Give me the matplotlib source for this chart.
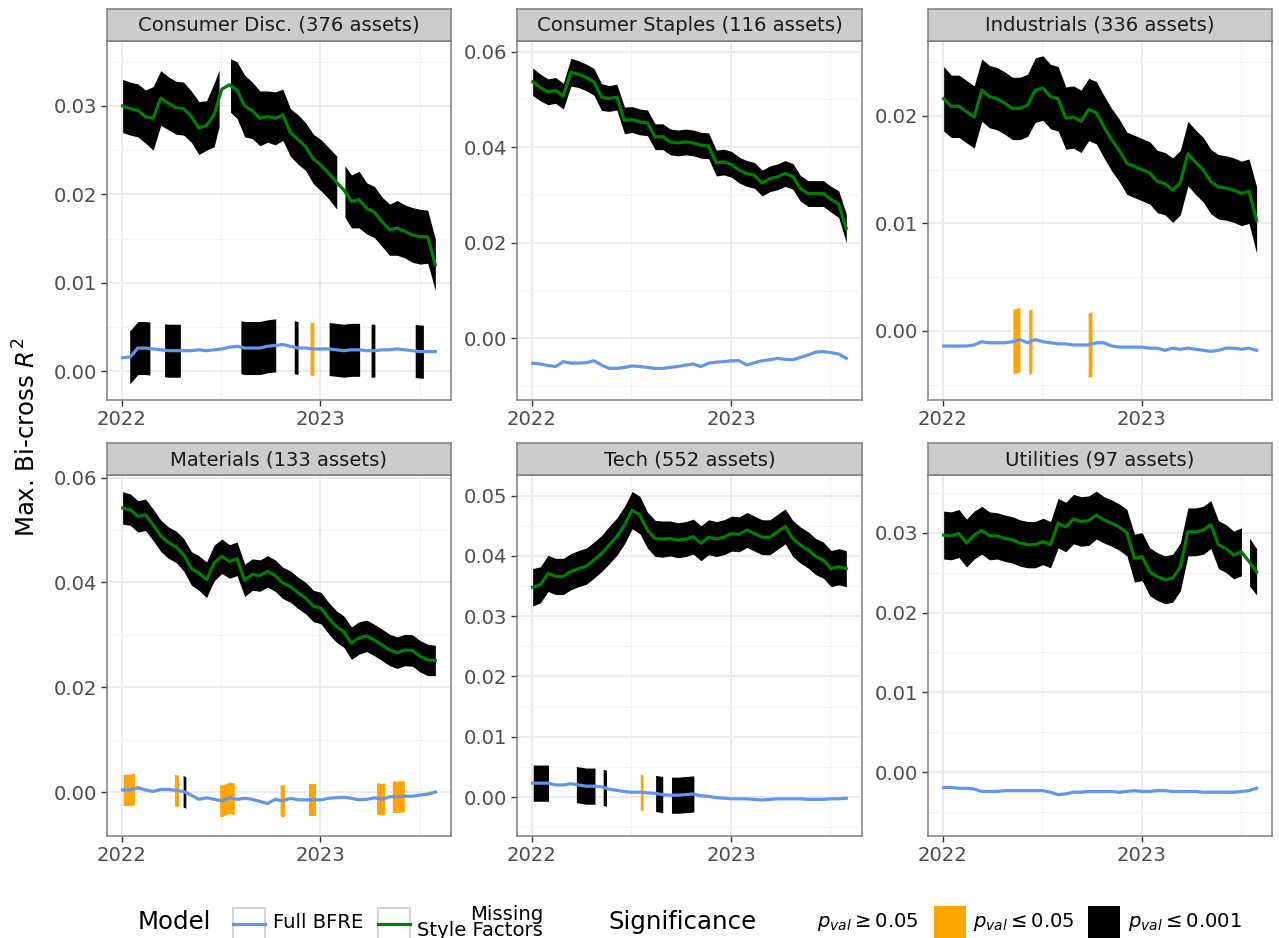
import numpy as np
import matplotlib
matplotlib.use("Agg")
import matplotlib.pyplot as plt
from matplotlib.patches import Rectangle
from matplotlib.lines import Line2D
from matplotlib.ticker import MultipleLocator, FormatStrFormatter

# ---------------- data ----------------
dates = np.arange(np.datetime64("2022-01-03"), np.datetime64("2023-08-07"), np.timedelta64(14, "D"))

panel_titles = ["Consumer Disc. (376 assets)", "Consumer Staples (116 assets)", "Industrials (336 assets)",
                "Materials (133 assets)", "Tech (552 assets)", "Utilities (97 assets)"]

# Missing Style Factors model (green) : value and ribbon half-width
green_cd = [0.0300, 0.0297, 0.0295, 0.0288, 0.0286, 0.0309, 0.0303, 0.0298, 0.0297, 0.0288,
            0.0275, 0.0278, 0.0290, 0.0319, 0.0324, 0.0318, 0.0300, 0.0295, 0.0286, 0.0288,
            0.0286, 0.0290, 0.0270, 0.0262, 0.0254, 0.0240, 0.0233, 0.0224, 0.0214, 0.0205,
            0.0192, 0.0194, 0.0184, 0.0180, 0.0169, 0.0160, 0.0162, 0.0158, 0.0154, 0.0152,
            0.0152, 0.0120]
green_cd_hw = [0.0030, 0.0030, 0.0030, 0.0030, 0.0036, 0.0031, 0.0030, 0.0030, 0.0030, 0.0029,
               0.0030, 0.0028, 0.0036, 0.0030, 0.0030, 0.0032, 0.0035, 0.0032, 0.0031, 0.0029,
               0.0030, 0.0029, 0.0027, 0.0028, 0.0027, 0.0028, 0.0029, 0.0029, 0.0030, 0.0029,
               0.0030, 0.0032, 0.0029, 0.0029, 0.0028, 0.0029, 0.0031, 0.0030, 0.0031, 0.0031,
               0.0030, 0.0029]
green_cs = [0.0537, 0.0525, 0.0516, 0.0519, 0.0507, 0.0557, 0.0553, 0.0546, 0.0537, 0.0505,
            0.0502, 0.0505, 0.0456, 0.0458, 0.0453, 0.0451, 0.0422, 0.0422, 0.0411, 0.0409,
            0.0411, 0.0409, 0.0404, 0.0403, 0.0367, 0.0369, 0.0364, 0.0352, 0.0345, 0.0341,
            0.0325, 0.0334, 0.0338, 0.0345, 0.0339, 0.0314, 0.0303, 0.0303, 0.0303, 0.0291,
            0.0281, 0.0230]
green_cs_hw = [0.0029, 0.0028, 0.0027, 0.0027, 0.0027, 0.0029, 0.0028, 0.0028, 0.0028, 0.0028,
               0.0027, 0.0027, 0.0028, 0.0027, 0.0027, 0.0027, 0.0027, 0.0027, 0.0027, 0.0027,
               0.0027, 0.0027, 0.0027, 0.0027, 0.0027, 0.0027, 0.0027, 0.0027, 0.0027, 0.0027,
               0.0027, 0.0027, 0.0027, 0.0027, 0.0027, 0.0027, 0.0027, 0.0027, 0.0027, 0.0027,
               0.0028, 0.0030]
green_ind = [0.0216, 0.0209, 0.0209, 0.0204, 0.0199, 0.0224, 0.0218, 0.0216, 0.0212, 0.0207,
             0.0207, 0.0210, 0.0224, 0.0226, 0.0218, 0.0216, 0.0198, 0.0199, 0.0195, 0.0206,
             0.0203, 0.0190, 0.0178, 0.0168, 0.0156, 0.0153, 0.0150, 0.0147, 0.0139, 0.0137,
             0.0131, 0.0138, 0.0165, 0.0157, 0.0150, 0.0139, 0.0134, 0.0133, 0.0131, 0.0128,
             0.0130, 0.0103]
green_ind_hw = [0.0030, 0.0029, 0.0029, 0.0029, 0.0029, 0.0029, 0.0029, 0.0029, 0.0029, 0.0029,
                0.0029, 0.0029, 0.0030, 0.0030, 0.0030, 0.0030, 0.0029, 0.0029, 0.0029, 0.0029,
                0.0029, 0.0029, 0.0029, 0.0029, 0.0029, 0.0029, 0.0029, 0.0029, 0.0029, 0.0029,
                0.0030, 0.0030, 0.0030, 0.0030, 0.0030, 0.0030, 0.0030, 0.0030, 0.0030, 0.0030,
                0.0030, 0.0031]
green_mat = [0.0542, 0.0539, 0.0526, 0.0529, 0.0510, 0.0489, 0.0476, 0.0468, 0.0453, 0.0427,
             0.0418, 0.0405, 0.0437, 0.0450, 0.0440, 0.0445, 0.0404, 0.0415, 0.0413, 0.0421,
             0.0413, 0.0399, 0.0392, 0.0380, 0.0370, 0.0355, 0.0351, 0.0332, 0.0316, 0.0306,
             0.0284, 0.0294, 0.0298, 0.0290, 0.0281, 0.0271, 0.0266, 0.0271, 0.0270, 0.0259,
             0.0252, 0.0251]
green_mat_hw = [0.0031, 0.0030, 0.0030, 0.0030, 0.0030, 0.0030, 0.0030, 0.0030, 0.0031, 0.0032,
                0.0033, 0.0034, 0.0034, 0.0033, 0.0032, 0.0032, 0.0031, 0.0030, 0.0030, 0.0030,
                0.0030, 0.0030, 0.0030, 0.0030, 0.0030, 0.0030, 0.0030, 0.0030, 0.0030, 0.0030,
                0.0031, 0.0031, 0.0030, 0.0030, 0.0030, 0.0030, 0.0030, 0.0030, 0.0030, 0.0030,
                0.0030, 0.0029]
green_tech = [0.0348, 0.0352, 0.0371, 0.0366, 0.0366, 0.0374, 0.0379, 0.0383, 0.0393, 0.0404,
              0.0418, 0.0432, 0.0451, 0.0476, 0.0468, 0.0443, 0.0429, 0.0428, 0.0429, 0.0426,
              0.0428, 0.0432, 0.0421, 0.0431, 0.0428, 0.0431, 0.0437, 0.0436, 0.0443, 0.0437,
              0.0431, 0.0431, 0.0440, 0.0449, 0.0429, 0.0418, 0.0410, 0.0399, 0.0393, 0.0379,
              0.0382, 0.0379]
green_tech_hw = [0.0031, 0.0030, 0.0030, 0.0030, 0.0030, 0.0030, 0.0030, 0.0030, 0.0030, 0.0030,
                 0.0031, 0.0031, 0.0031, 0.0031, 0.0031, 0.0030, 0.0030, 0.0030, 0.0029, 0.0029,
                 0.0029, 0.0029, 0.0029, 0.0029, 0.0029, 0.0029, 0.0029, 0.0029, 0.0029, 0.0029,
                 0.0029, 0.0029, 0.0029, 0.0029, 0.0030, 0.0030, 0.0030, 0.0030, 0.0030, 0.0030,
                 0.0030, 0.0030]
green_util = [0.0297, 0.0296, 0.0299, 0.0287, 0.0297, 0.0303, 0.0296, 0.0296, 0.0293, 0.0291,
              0.0287, 0.0285, 0.0285, 0.0289, 0.0285, 0.0312, 0.0307, 0.0317, 0.0314, 0.0315,
              0.0322, 0.0316, 0.0312, 0.0307, 0.0300, 0.0268, 0.0270, 0.0251, 0.0245, 0.0241,
              0.0243, 0.0257, 0.0301, 0.0301, 0.0303, 0.0310, 0.0285, 0.0280, 0.0272, 0.0276,
              0.0264, 0.0251]
green_util_hw = [0.0030, 0.0030, 0.0030, 0.0030, 0.0030, 0.0030, 0.0030, 0.0029, 0.0029, 0.0029,
                 0.0029, 0.0029, 0.0029, 0.0029, 0.0029, 0.0031, 0.0031, 0.0031, 0.0031, 0.0031,
                 0.0030, 0.0029, 0.0029, 0.0029, 0.0029, 0.0030, 0.0030, 0.0030, 0.0030, 0.0030,
                 0.0030, 0.0030, 0.0030, 0.0030, 0.0030, 0.0030, 0.0030, 0.0030, 0.0030, 0.0030,
                 0.0030, 0.0029]

# Full BFRE model (blue)
blue_cd = [0.0015, 0.0016, 0.0026, 0.0026, 0.0025, 0.0024, 0.0023, 0.0023, 0.0023, 0.0023,
           0.0024, 0.0023, 0.0024, 0.0025, 0.0027, 0.0028, 0.0026, 0.0026, 0.0026, 0.0028,
           0.0029, 0.0030, 0.0028, 0.0026, 0.0026, 0.0025, 0.0025, 0.0025, 0.0024, 0.0023,
           0.0024, 0.0024, 0.0023, 0.0023, 0.0024, 0.0024, 0.0025, 0.0024, 0.0023, 0.0022,
           0.0022, 0.0022]
blue_cs = [-0.0052, -0.0054, -0.0057, -0.0059, -0.0049, -0.0052, -0.0052, -0.0051, -0.0047, -0.0056,
           -0.0063, -0.0063, -0.0061, -0.0058, -0.0059, -0.0061, -0.0063, -0.0063, -0.0061, -0.0059,
           -0.0056, -0.0054, -0.0059, -0.0052, -0.0050, -0.0049, -0.0047, -0.0047, -0.0056, -0.0051,
           -0.0047, -0.0045, -0.0042, -0.0044, -0.0045, -0.0040, -0.0035, -0.0029, -0.0028, -0.0030,
           -0.0033, -0.0042]
blue_ind = [-0.0014, -0.0014, -0.0014, -0.0014, -0.0013, -0.0010, -0.0011, -0.0011, -0.0011, -0.0010,
            -0.0008, -0.0011, -0.0008, -0.0010, -0.0011, -0.0012, -0.0012, -0.0013, -0.0013, -0.0013,
            -0.0011, -0.0011, -0.0014, -0.0015, -0.0015, -0.0015, -0.0015, -0.0016, -0.0016, -0.0018,
            -0.0016, -0.0017, -0.0016, -0.0017, -0.0018, -0.0019, -0.0018, -0.0016, -0.0016, -0.0017,
            -0.0016, -0.0018]
blue_mat = [0.0004, 0.0004, 0.0008, 0.0004, 0.0001, 0.0005, 0.0005, 0.0003, 0.0001, -0.0006,
            -0.0014, -0.0011, -0.0014, -0.0017, -0.0011, -0.0014, -0.0012, -0.0014, -0.0018, -0.0022,
            -0.0014, -0.0017, -0.0012, -0.0015, -0.0015, -0.0015, -0.0015, -0.0012, -0.0011, -0.0010,
            -0.0012, -0.0015, -0.0014, -0.0011, -0.0014, -0.0009, -0.0009, -0.0008, -0.0008, -0.0006,
            -0.0004, 0.0000]
blue_tech = [0.0023, 0.0023, 0.0023, 0.0020, 0.0020, 0.0022, 0.0020, 0.0018, 0.0018, 0.0017,
             0.0013, 0.0011, 0.0009, 0.0008, 0.0008, 0.0007, 0.0006, 0.0004, 0.0003, 0.0003,
             0.0004, 0.0005, 0.0002, 0.0001, -0.0001, -0.0002, -0.0003, -0.0003, -0.0003, -0.0004,
             -0.0005, -0.0004, -0.0003, -0.0003, -0.0003, -0.0003, -0.0004, -0.0004, -0.0004, -0.0003,
             -0.0003, -0.0002]
blue_util = [-0.0019, -0.0019, -0.0020, -0.0020, -0.0021, -0.0024, -0.0024, -0.0024, -0.0023, -0.0023,
             -0.0023, -0.0023, -0.0023, -0.0023, -0.0025, -0.0028, -0.0027, -0.0025, -0.0025, -0.0024,
             -0.0024, -0.0024, -0.0024, -0.0025, -0.0024, -0.0023, -0.0024, -0.0024, -0.0023, -0.0023,
             -0.0024, -0.0024, -0.0024, -0.0024, -0.0025, -0.0025, -0.0025, -0.0025, -0.0025, -0.0024,
             -0.0023, -0.0020]
blue_hw = [0.0030, 0.0030, 0.0030, 0.0030, 0.0030, 0.0030]

# significance periods (start, end, level): '*' p<=0.05, '***' p<=0.001 ; elsewhere p>=0.05 (no fill)
green_sig = [
    [("2022-01-03", "2022-06-29", "***"), ("2022-07-20", "2023-01-31", "***"), ("2023-02-15", "2023-07-31", "***")],
    [("2022-01-03", "2023-07-31", "***")],
    [("2022-01-03", "2023-07-31", "***")],
    [("2022-01-03", "2023-07-31", "***")],
    [("2022-01-03", "2023-07-31", "***")],
    [("2022-01-03", "2023-07-03", "***"), ("2023-07-18", "2023-07-31", "***")],
]
blue_sig = [
    [("2022-01-16", "2022-02-22", "***"), ("2022-03-21", "2022-04-19", "***"), ("2022-08-08", "2022-10-11", "***"),
     ("2022-11-14", "2022-11-21", "***"), ("2022-12-13", "2022-12-20", "*"), ("2023-01-17", "2023-03-14", "***"),
     ("2023-04-04", "2023-04-11", "***"), ("2023-06-24", "2023-07-09", "***")],
    [],
    [("2022-05-10", "2022-05-23", "*"), ("2022-06-08", "2022-06-14", "*"), ("2022-09-25", "2022-10-02", "*")],
    [("2022-01-04", "2022-01-25", "*"), ("2022-04-08", "2022-04-16", "*"), ("2022-04-24", "2022-04-29", "***"),
     ("2022-06-30", "2022-07-27", "*"), ("2022-10-19", "2022-10-27", "*"), ("2022-12-11", "2022-12-24", "*"),
     ("2023-04-14", "2023-04-29", "*"), ("2023-05-13", "2023-06-04", "*")],
    [("2022-01-04", "2022-02-01", "***"), ("2022-03-24", "2022-04-27", "***"), ("2022-05-12", "2022-05-18", "***"),
     ("2022-07-19", "2022-07-24", "*"), ("2022-08-16", "2022-08-29", "***"), ("2022-09-14", "2022-10-25", "***")],
    [],
]

green_vals = [green_cd, green_cs, green_ind, green_mat, green_tech, green_util]
green_hws = [green_cd_hw, green_cs_hw, green_ind_hw, green_mat_hw, green_tech_hw, green_util_hw]
blue_vals = [blue_cd, blue_cs, blue_ind, blue_mat, blue_tech, blue_util]

# ---------------- styling / layout ----------------
W, H, DPI = 1279, 938, 100
ylims = [(-0.00328, 0.03739), (-0.01292, 0.0623), (-0.00642, 0.0270),
         (-0.00834, 0.0605), (-0.00642, 0.05343), (-0.00794, 0.03722)]
ysteps = [0.01, 0.02, 0.01, 0.02, 0.01, 0.01]
col_x = [(107, 451), (517, 862), (928, 1272.3)]
row_y = [(40.7, 400), (475, 835.7)]
STRIP_H = 32
SIG_COL = {"*": "#FFA500", "***": "#000000"}
BLUE = "#6495ED"
GREEN = "#008000"
BORDER = "#7F7F7F"
FS_TICK = 14.1
FS_TITLE = 17.6
LW = 2.3

plt.rcParams["font.family"] = ["DejaVu Sans"]
plt.rcParams["mathtext.fontset"] = "dejavusans"


def d2n(d):
    return (np.datetime64(d, "D") - np.datetime64("1970-01-01", "D")).astype(float)


xd = (dates.astype("datetime64[D]") - np.datetime64("1970-01-01", "D")).astype(float)
span = xd[-1] - xd[0]
xlim = (xd[0] - 0.05 * span, xd[-1] + 0.05 * span)


def fr(x0, y0, x1, y1):
    return [x0 / W, 1 - y1 / H, (x1 - x0) / W, (y1 - y0) / H]


def draw_ribbon(ax, line, hw, runs):
    line = np.asarray(line, float)
    hw = np.asarray(hw, float) * np.ones_like(line)
    for s, e, lvl in runs:
        xs, xe = d2n(s), d2n(e)
        inner = xd[(xd > xs) & (xd < xe)]
        xx = np.concatenate([[xs], inner, [xe]])
        lo = np.interp(xx, xd, line - hw)
        hi = np.interp(xx, xd, line + hw)
        ax.fill_between(xx, lo, hi, color=SIG_COL[lvl], lw=0, zorder=2)


fig = plt.figure(figsize=(W / DPI, H / DPI), dpi=DPI)
fig.patch.set_facecolor("white")

for i in range(6):
    r, c = divmod(i, 3)
    x0, x1 = col_x[c]
    y0, y1 = row_y[r]
    ax = fig.add_axes(fr(x0, y0, x1, y1))
    draw_ribbon(ax, green_vals[i], green_hws[i], green_sig[i])
    draw_ribbon(ax, blue_vals[i], blue_hw[i], blue_sig[i])
    ax.plot(xd, blue_vals[i], color=BLUE, lw=LW, zorder=3, solid_joinstyle="round")
    ax.plot(xd, green_vals[i], color=GREEN, lw=LW, zorder=4, solid_joinstyle="round")
    ax.set_xlim(*xlim)
    ax.set_ylim(*ylims[i])
    ax.set_xticks([d2n("2022-01-01"), d2n("2023-01-01")], ["2022", "2023"])
    ax.set_xticks([d2n("2022-07-02"), d2n("2023-07-02")], minor=True)
    ax.yaxis.set_major_locator(MultipleLocator(ysteps[i]))
    ax.yaxis.set_minor_locator(MultipleLocator(ysteps[i] / 2))
    ax.yaxis.set_major_formatter(FormatStrFormatter("%.2f"))
    ax.grid(which="major", color="#EBEBEB", lw=1.4, zorder=0)
    ax.grid(which="minor", color="#F2F2F2", lw=0.8, zorder=0)
    ax.set_axisbelow(True)
    ax.tick_params(which="major", length=4.2, width=1.0, color="#333333", labelsize=FS_TICK,
                   labelcolor="#4D4D4D", pad=3.0)
    ax.tick_params(which="minor", length=0)
    for sp in ax.spines.values():
        sp.set_color(BORDER)
        sp.set_linewidth(1.1)
    # strip
    sax = fig.add_axes(fr(x0, y0 - STRIP_H, x1, y0))
    sax.set_facecolor("#CCCCCC")
    sax.set_xticks([])
    sax.set_yticks([])
    for sp in sax.spines.values():
        sp.set_color(BORDER)
        sp.set_linewidth(1.1)
    sax.text(0.5, 0.48, panel_titles[i], ha="center", va="center", fontsize=FS_TICK,
             color="#1A1A1A", transform=sax.transAxes)

# y-axis title
fig.text(27 / W, 1 - 437 / H, "Max. Bi-cross $R^2$", rotation=90, ha="center", va="center",
         fontsize=FS_TITLE, color="black")


# ---------------- legend (bottom) ----------------
def fx(x):
    return x / W


def fy(y):
    return 1 - y / H


LEG_Y = 922
fig.text(fx(138), fy(LEG_Y), "Model", ha="left", va="center", fontsize=FS_TITLE)
for (kx0, kx1), col in [((233, 265), BLUE), ((378, 410), GREEN)]:
    fig.add_artist(Rectangle((fx(kx0), fy(942)), (kx1 - kx0) / W, (942 - 908) / H, transform=fig.transFigure,
                             facecolor="white", edgecolor="#CCCCCC", lw=1.2))
    fig.add_artist(Line2D([fx(kx0), fx(kx1)], [fy(924), fy(924)], transform=fig.transFigure,
                          color=col, lw=LW))
fig.text(fx(273), fy(LEG_Y), "Full BFRE", ha="left", va="center", fontsize=FS_TICK)
fig.text(fx(543), fy(LEG_Y), "Missing\nStyle Factors", ha="right", va="center", ma="right",
         fontsize=FS_TICK, linespacing=0.8)

fig.text(fx(608), fy(LEG_Y), "Significance", ha="left", va="center", fontsize=FS_TITLE)
fig.text(fx(817), fy(LEG_Y), r"$p_{val} \geq 0.05$", ha="left", va="center", fontsize=FS_TICK)
fig.add_artist(Rectangle((fx(934), fy(942)), 32 / W, (942 - 906) / H, transform=fig.transFigure,
                         facecolor=SIG_COL["*"], edgecolor="none"))
fig.text(fx(973), fy(LEG_Y), r"$p_{val} \leq 0.05$", ha="left", va="center", fontsize=FS_TICK)
fig.add_artist(Rectangle((fx(1088), fy(942)), 32 / W, (942 - 906) / H, transform=fig.transFigure,
                         facecolor=SIG_COL["***"], edgecolor="none"))
fig.text(fx(1128), fy(LEG_Y), r"$p_{val} \leq 0.001$", ha="left", va="center", fontsize=FS_TICK)

fig.savefig("out.png", dpi=DPI, facecolor="white")
